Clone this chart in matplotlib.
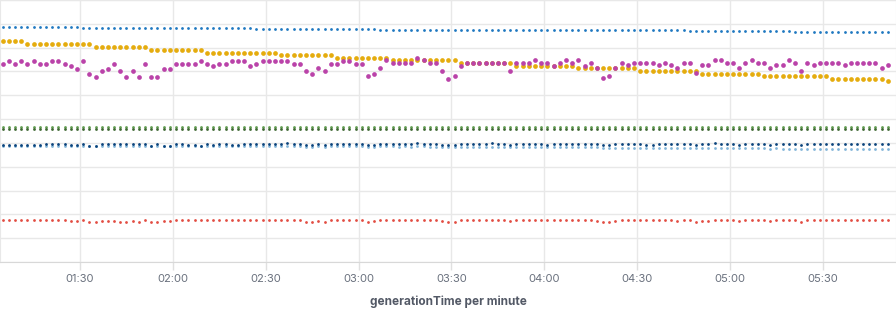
import numpy as np
import pandas as pd
import matplotlib
matplotlib.use('Agg')
import matplotlib.pyplot as plt
import matplotlib.dates as mdates

# 2-minute buckets
times = pd.date_range('2021-01-01 01:05', periods=144, freq='2min')

top_blue = [
    98.7, 98.7, 98.7, 98.7, 98.7, 98.7, 98.7, 98.7, 98.7, 98.7, 98.7, 98.7,
    98.7, 98.4, 98.4, 98.4, 98.4, 98.4, 98.4, 98.4, 98.4, 98.4, 98.4, 98.4,
    98.4, 98.4, 98.4, 98.2, 98.2, 98.2, 98.2, 98.2, 98.2, 98.2, 98.2, 98.2,
    98.2, 98.2, 98.2, 98.2, 98.2, 97.9, 97.9, 97.9, 97.9, 97.9, 97.9, 97.9,
    97.9, 97.9, 97.9, 97.9, 97.9, 97.9, 97.9, 97.9, 97.9, 97.9, 97.9, 97.9,
    97.9, 97.6, 97.6, 97.6, 97.6, 97.6, 97.6, 97.6, 97.6, 97.6, 97.6, 97.6,
    97.6, 97.6, 97.6, 97.6, 97.6, 97.6, 97.6, 97.4, 97.4, 97.4, 97.4, 97.4,
    97.4, 97.4, 97.4, 97.4, 97.4, 97.4, 97.4, 97.2, 97.2, 97.2, 97.2, 97.2,
    97.2, 97.2, 97.2, 97.2, 97.2, 97.2, 97.2, 97.2, 97.2, 97.2, 97.2, 97.2,
    97.2, 97.2, 97.2, 96.9, 96.9, 96.9, 96.9, 96.9, 96.9, 96.9, 96.9, 96.9,
    96.9, 96.9, 96.9, 96.9, 96.9, 96.9, 96.9, 96.9, 96.6, 96.6, 96.6, 96.6,
    96.6, 96.6, 96.6, 96.6, 96.6, 96.6, 96.5, 96.5, 96.5, 96.5, 96.5, 96.5,
]

orange = [
    92.6, 92.6, 92.6, 92.6, 91.4, 91.4, 91.4, 91.4, 91.4, 91.4, 91.4, 91.4,
    91.4, 91.4, 91.4, 90.2, 90.2, 90.2, 90.2, 90.2, 90.2, 90.2, 90.2, 90.2,
    89.1, 89.1, 89.1, 89.1, 89.1, 89.1, 89.1, 89.1, 89.1, 87.9, 87.9, 87.9,
    87.9, 87.9, 87.9, 87.9, 87.9, 87.9, 87.9, 87.9, 87.9, 86.8, 86.8, 86.8,
    86.8, 86.8, 86.8, 86.8, 86.8, 86.8, 85.7, 85.7, 85.7, 85.7, 85.7, 85.7,
    85.7, 85.7, 85.7, 84.6, 84.6, 84.6, 84.6, 84.6, 84.6, 84.6, 84.6, 84.6,
    84.6, 84.6, 83.5, 83.5, 83.5, 83.5, 83.5, 83.5, 83.5, 83.5, 83.5, 82.5,
    82.5, 82.5, 82.5, 82.5, 82.5, 82.5, 82.5, 82.5, 82.5, 81.4, 81.4, 81.4,
    81.4, 81.4, 81.4, 81.4, 81.4, 81.4, 81.4, 80.3, 80.3, 80.3, 80.3, 80.3,
    80.3, 80.3, 80.3, 80.3, 80.3, 79.1, 79.1, 79.1, 79.1, 79.1, 79.1, 79.1,
    79.1, 79.1, 79.1, 78.0, 78.0, 78.0, 78.0, 78.0, 78.0, 78.0, 78.0, 78.0,
    78.0, 78.0, 76.9, 76.9, 76.9, 76.9, 76.9, 76.9, 76.9, 76.9, 76.9, 75.8,
]

magenta = [
    83.3, 84.5, 83.3, 84.5, 83.3, 84.5, 83.3, 83.3, 84.5, 84.5, 83.3, 82.2,
    81.1, 84.5, 78.9, 77.7, 80.0, 81.1, 83.3, 80.0, 77.7, 80.0, 77.7, 83.3,
    77.7, 77.7, 81.1, 81.1, 83.3, 83.3, 83.3, 83.3, 84.5, 83.3, 82.2, 83.3,
    83.3, 84.5, 84.5, 84.5, 82.2, 83.3, 84.5, 84.5, 84.5, 84.5, 84.5, 83.3,
    83.3, 80.3, 79.1, 81.4, 80.3, 83.3, 83.3, 84.5, 84.5, 83.3, 83.3, 78.0,
    79.1, 81.3, 84.7, 83.5, 83.5, 83.5, 83.5, 85.7, 84.7, 83.5, 83.5, 80.3,
    76.9, 78.0, 82.5, 83.5, 83.5, 83.5, 83.5, 83.5, 83.5, 83.5, 80.3, 83.5,
    83.5, 83.5, 84.7, 83.5, 83.5, 82.5, 83.5, 84.7, 83.5, 84.7, 82.5, 83.5,
    81.4, 77.2, 78.0, 81.4, 83.7, 82.6, 83.7, 83.7, 83.7, 83.7, 82.6, 83.7,
    82.6, 81.5, 83.7, 83.7, 79.4, 82.6, 82.6, 84.9, 84.9, 83.7, 83.7, 81.5,
    83.7, 84.9, 83.7, 83.7, 81.5, 82.6, 82.6, 84.9, 83.7, 80.4, 83.7, 82.6,
    83.7, 83.7, 83.7, 83.7, 82.6, 83.7, 83.7, 83.7, 83.7, 83.7, 81.5, 82.6,
]

green_light = [
    56.7, 56.7, 56.7, 56.7, 56.7, 56.7, 56.7, 56.7, 56.7, 56.7, 56.7, 56.7,
    56.7, 56.7, 56.7, 56.7, 56.7, 56.7, 56.7, 56.7, 56.7, 56.7, 56.7, 56.7,
    56.7, 56.7, 56.7, 56.7, 56.7, 56.7, 56.7, 56.7, 56.7, 56.7, 56.7, 56.7,
    56.7, 56.7, 56.7, 56.7, 56.7, 56.7, 56.7, 56.7, 56.7, 56.7, 56.7, 56.7,
    56.7, 56.7, 56.7, 56.7, 56.7, 56.7, 56.7, 56.7, 56.7, 56.7, 56.7, 56.7,
    56.7, 56.7, 56.7, 56.7, 56.7, 56.7, 56.7, 56.7, 56.7, 56.7, 56.7, 56.7,
    56.7, 56.7, 56.7, 56.7, 56.7, 56.7, 56.7, 56.7, 56.7, 56.7, 56.7, 56.7,
    56.7, 56.7, 56.7, 56.7, 56.7, 56.7, 56.7, 56.7, 56.7, 56.7, 56.7, 56.7,
    56.7, 56.7, 56.7, 56.7, 56.7, 56.7, 56.7, 56.7, 56.7, 56.7, 56.7, 56.7,
    56.7, 56.7, 56.7, 56.7, 56.7, 56.7, 56.7, 56.7, 56.7, 56.7, 56.7, 56.7,
    56.7, 56.7, 56.7, 56.7, 56.7, 56.7, 56.7, 56.7, 56.7, 56.7, 56.7, 56.7,
    56.7, 56.7, 56.7, 56.7, 56.7, 56.7, 56.7, 56.7, 56.7, 56.7, 56.7, 56.7,
]

green_dark = [
    55.9, 55.9, 55.9, 55.9, 55.9, 55.9, 55.9, 55.9, 55.9, 55.9, 55.9, 55.9,
    55.9, 55.9, 55.9, 55.9, 55.9, 55.9, 55.9, 55.9, 55.9, 55.9, 55.9, 55.9,
    55.9, 55.9, 55.9, 55.9, 55.9, 55.9, 55.9, 55.9, 55.9, 55.9, 55.9, 55.9,
    55.9, 55.9, 55.9, 55.9, 55.9, 55.9, 55.9, 55.9, 55.9, 55.9, 55.9, 55.9,
    55.9, 55.9, 55.9, 55.9, 55.9, 55.9, 55.9, 55.9, 55.9, 55.9, 55.9, 55.9,
    55.9, 55.9, 55.9, 55.9, 55.9, 55.9, 55.9, 55.9, 55.9, 55.9, 55.9, 55.9,
    55.9, 55.9, 55.9, 55.9, 55.9, 55.9, 55.9, 55.9, 55.9, 55.9, 55.9, 55.9,
    55.9, 55.9, 55.9, 55.9, 55.9, 55.9, 55.9, 55.9, 55.9, 55.9, 55.9, 55.9,
    55.9, 55.9, 55.9, 55.9, 55.9, 55.9, 55.9, 55.9, 55.9, 55.9, 55.9, 55.9,
    55.9, 55.9, 55.9, 55.9, 55.9, 55.9, 55.9, 55.9, 55.9, 55.9, 55.9, 55.9,
    55.9, 55.9, 55.9, 55.9, 55.9, 55.9, 55.9, 55.9, 55.9, 55.9, 55.9, 55.9,
    55.9, 55.9, 55.9, 55.9, 55.9, 55.9, 55.9, 55.9, 55.9, 55.9, 55.9, 55.9,
]

navy = [
    49.2, 49.2, 49.2, 49.2, 49.2, 49.2, 49.2, 49.7, 49.7, 49.5, 49.5, 49.2,
    49.2, 49.7, 48.9, 48.9, 49.5, 49.5, 49.7, 49.5, 49.5, 49.5, 49.7, 49.5,
    48.9, 49.7, 48.9, 48.6, 49.5, 49.5, 49.2, 49.2, 48.9, 49.5, 49.2, 49.5,
    49.7, 49.2, 49.2, 49.7, 49.5, 49.7, 49.5, 49.5, 49.7, 49.5, 50.0, 49.5,
    49.5, 49.2, 49.2, 49.5, 49.2, 49.5, 49.7, 49.5, 49.7, 49.5, 49.5, 49.2,
    49.2, 49.5, 49.7, 49.5, 49.5, 49.5, 49.5, 49.9, 49.5, 49.7, 49.5, 49.2,
    49.0, 49.2, 49.5, 49.5, 49.7, 49.5, 49.5, 49.9, 49.5, 49.5, 49.2, 49.5,
    49.5, 49.7, 49.5, 49.5, 49.2, 49.5, 49.7, 49.5, 49.5, 49.7, 49.5, 49.5,
    49.7, 49.2, 49.2, 49.5, 49.7, 49.5, 49.7, 49.5, 49.2, 49.2, 49.7, 49.5,
    49.7, 49.5, 49.5, 49.7, 49.2, 49.5, 49.5, 50.0, 49.7, 49.5, 49.5, 49.2,
    49.5, 49.7, 49.5, 49.5, 49.2, 49.7, 49.5, 49.7, 49.5, 49.2, 49.5, 49.7,
    49.5, 49.7, 49.5, 49.7, 49.5, 49.5, 49.7, 49.5, 49.7, 49.5, 49.7, 49.5,
]

light_blue = [
    48.9, 48.8, 48.9, 48.8, 48.9, 48.9, 48.8, 48.9, 48.8, 48.8, 48.9, 48.8,
    48.8, 48.9, 48.6, 48.6, 48.8, 48.8, 48.9, 48.8, 48.7, 48.8, 48.8, 48.9,
    48.6, 48.8, 48.6, 48.5, 48.8, 48.7, 48.8, 48.8, 48.6, 48.8, 48.7, 48.8,
    48.8, 48.7, 48.7, 48.8, 48.7, 48.8, 48.7, 48.7, 48.8, 48.7, 48.8, 48.6,
    48.6, 48.4, 48.4, 48.5, 48.4, 48.6, 48.5, 48.5, 48.6, 48.5, 48.5, 48.3,
    48.4, 48.5, 48.5, 48.5, 48.4, 48.5, 48.4, 48.6, 48.5, 48.4, 48.4, 48.3,
    48.2, 48.3, 48.4, 48.4, 48.3, 48.4, 48.3, 48.4, 48.3, 48.3, 48.2, 48.3,
    48.3, 48.2, 48.3, 48.2, 48.2, 48.3, 48.2, 48.2, 48.1, 48.2, 48.2, 48.1,
    48.1, 47.9, 47.9, 48.0, 48.0, 48.0, 48.0, 48.0, 47.9, 48.0, 48.0, 47.9,
    48.0, 47.9, 47.9, 47.9, 47.7, 47.8, 47.8, 47.8, 47.8, 47.8, 47.7, 47.7,
    47.7, 47.7, 47.7, 47.7, 47.6, 47.7, 47.6, 47.6, 47.6, 47.6, 47.5, 47.6,
    47.6, 47.6, 47.6, 47.6, 47.6, 47.6, 47.6, 47.6, 47.6, 47.6, 47.6, 47.6,
]

red = [
    17.6, 17.6, 17.6, 17.6, 17.6, 17.6, 17.6, 17.6, 17.6, 17.6, 17.6, 17.4,
    17.4, 17.6, 16.9, 16.9, 17.2, 17.2, 17.2, 16.9, 16.8, 17.2, 16.8, 17.5,
    16.8, 16.8, 17.2, 17.2, 17.5, 17.6, 17.6, 17.6, 17.6, 17.5, 17.6, 17.6,
    17.6, 17.6, 17.6, 17.6, 17.6, 17.6, 17.6, 17.6, 17.6, 17.6, 17.6, 17.6,
    17.5, 16.9, 16.9, 17.2, 16.9, 17.5, 17.5, 17.5, 17.5, 17.5, 17.5, 16.9,
    17.2, 17.5, 17.5, 17.5, 17.5, 17.5, 17.5, 17.6, 17.5, 17.5, 17.5, 17.2,
    16.8, 16.8, 17.5, 17.5, 17.5, 17.5, 17.5, 17.5, 17.5, 17.5, 17.3, 17.5,
    17.5, 17.5, 17.5, 17.5, 17.5, 17.5, 17.5, 17.5, 17.5, 17.5, 17.5, 17.5,
    17.4, 16.9, 16.9, 17.3, 17.5, 17.5, 17.5, 17.5, 17.5, 17.5, 17.5, 17.5,
    17.5, 17.4, 17.5, 17.5, 16.9, 17.4, 17.4, 17.6, 17.6, 17.5, 17.5, 17.4,
    17.5, 17.6, 17.5, 17.5, 17.4, 17.5, 17.5, 17.6, 17.5, 16.9, 17.5, 17.5,
    17.5, 17.5, 17.5, 17.5, 17.5, 17.5, 17.5, 17.5, 17.5, 17.5, 17.5, 17.5,
]

plt.rcParams['font.family'] = ['Inter', 'DejaVu Sans']

fig = plt.figure(figsize=(8.96, 3.10), dpi=100)
ax = fig.add_axes([0, 48 / 310, 1, 262 / 310])

# (values, color, marker size in pt)
series = [
    (red, '#E24D42', 2.0),
    (light_blue, '#82B5D8', 2.0),
    (navy, '#0A437C', 2.0),
    (green_light, '#629E51', 2.0),
    (green_dark, '#3F6833', 2.0),
    (top_blue, '#1F78C1', 2.0),
    (orange, '#E5AC0E', 3.4),
    (magenta, '#BA43A9', 3.4),
]
for vals, col, ms in series:
    ax.plot(times, vals, 'o', ms=ms, color=col, mew=0, clip_on=False, zorder=3)

ax.set_xlim(pd.Timestamp('2021-01-01 01:04:08'), pd.Timestamp('2021-01-01 05:53:38'))
ax.set_ylim(0, 110)
ax.set_yticks(np.arange(0, 111, 10))
ax.set_yticklabels([])
ax.tick_params(axis='y', length=0)

ax.xaxis.set_major_locator(mdates.MinuteLocator(byminute=[0, 30]))
ax.xaxis.set_major_formatter(mdates.DateFormatter('%H:%M'))
ax.tick_params(axis='x', length=6, width=1, color='#e0e0e0',
               labelsize=8, labelcolor='#69707d', pad=3)

ax.grid(True, color='#e8e8e8', lw=1, zorder=0)
for s in ['left', 'right', 'top']:
    ax.spines[s].set_color('#e8e8e8')
ax.spines['bottom'].set_color('#d8d8d8')

ax.set_xlabel('generationTime per minute', fontsize=8.5, fontweight='bold',
              color='#535966', labelpad=8)

fig.savefig('out.png', dpi=100)
